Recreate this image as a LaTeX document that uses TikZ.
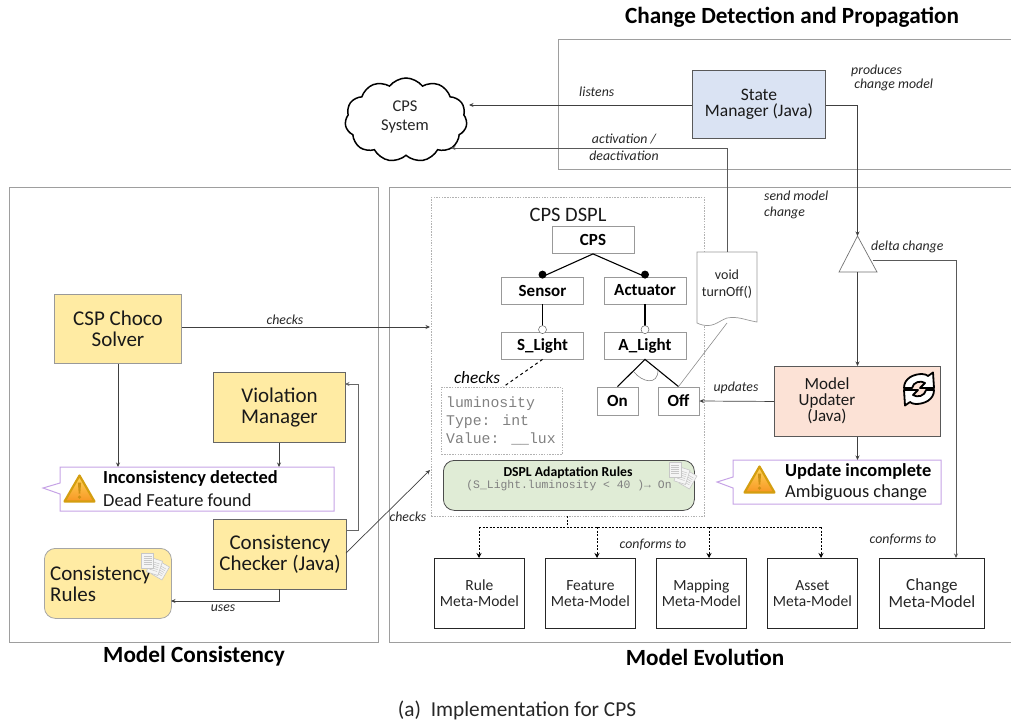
\documentclass[tikz,border=0pt]{standalone}
\usepackage{fontspec}
\setmainfont{Carlito}
\newfontfamily\monof{Liberation Mono}
\usetikzlibrary{arrows.meta,shapes.symbols,shapes.geometric,calc}
\newcommand{\fsz}[1]{\fontsize{#1}{#1}\selectfont}
\definecolor{ybox}{HTML}{FFEBA3}
\definecolor{wviolet}{HTML}{C6A3E6}
\definecolor{wedge}{RGB}{212,158,16}
\definecolor{wtop}{RGB}{255,214,90}
\definecolor{wbot}{RGB}{247,150,35}
\definecolor{wmark}{RGB}{205,145,20}
\definecolor{statefill}{RGB}{218,227,243}
\definecolor{updfill}{RGB}{252,226,214}
\definecolor{adaptfill}{RGB}{224,236,214}
\tikzset{
 x=1pt,y=-1pt,
 region/.style={draw=black!38,line width=.7pt},
 lab/.style={inner sep=0,font=\fsz{13.8}\itshape,text=black!85,align=left},
 conn/.style={draw=black!75,line width=.7pt,-{Stealth[length=4.5pt,width=4pt]}},
 yellowbox/.style={draw=black!60,line width=1pt,fill=ybox,align=center,font=\fsz{21},inner sep=0,text=black!90},
 feat/.style={draw=black!40,line width=.8pt,fill=white,font=\fsz{17}\bfseries,inner sep=0,text=black},
 meta/.style={draw=black!85,line width=.8pt,fill=white,align=center,font=\fsz{15.5},inner sep=0,text=black!85},
 tree/.style={draw=black,line width=1.1pt},
 warnbox/.style={draw=wviolet,line width=1pt,fill=white},
 title/.style={font=\fsz{23.2}\bfseries,inner sep=0,text=black},
 warnicon/.pic={
  \path[line join=round,draw=wedge,line width=2.2pt,top color=wtop,bottom color=wbot]
   (-15,13) -- (0,-13) -- (15,13) -- cycle;
  \fill[wmark] (-1.6,-6) -- (1.6,-6) -- (.8,5) -- (-.8,5) -- cycle;
  \fill[wmark] (0,8.6) circle (1.8);
 },
 docicon/.pic={
  \foreach \a/\dx/\dy in {-30/13/10,-18/7/6,0/0/0}{
   \begin{scope}[shift={(\dx,\dy)},rotate=\a]
   \path[draw=black!22,fill=black!4,line width=.6pt] (-6,-7.5) rectangle (6,7.5);
   \foreach \yy in {-4,-2,0,2,4}{\draw[black!22,line width=.5pt] (-4,\yy) -- (4,\yy);}
   \end{scope}}
 },
}
\begin{document}
\begin{tikzpicture}
\useasboundingbox (0,0) rectangle (1011,723);
% regions
\draw[region] (1011,39) -- (558,39) -- (558,169) -- (1011,169);
\draw[region] (1011,187) -- (389,187) -- (389,642) -- (1011,642);
\node[region,minimum width=369pt,minimum height=455pt,inner sep=0,anchor=north west] (mc) at (9,187) {};
\node[draw=black!30,dash pattern=on 1.5pt off 1.2pt,line width=.6pt,minimum width=273pt,minimum height=319pt,inner sep=0,anchor=north west] (dspl) at (431,197) {};
% titles
\node[title] (t1) at (792,17) {Change Detection and Propagation};
\node[title] (t2) at (194,656) {Model Consistency};
\node[title] (t3) at (705,657) {Model Evolution};
\node[inner sep=0,font=\fsz{21.3},text=black!85] (cap) at (517,710) {(a)\hspace{5pt} Implementation for CPS};
% cloud
\node[cloud,cloud puffs=11,cloud puff arc=105,aspect=1.45,draw=black,line width=1.5pt,minimum width=122pt,minimum height=84pt,inner sep=0,fill=white] (cloud) at (406,120) {};
\node[inner sep=0,align=center,font=\fsz{16.5},text=black!85] (cloudt) at (405,117) {CPS\\[3pt]System};
% state manager
\node[draw=black!65,line width=.9pt,fill=statefill,minimum width=133pt,minimum height=68pt,inner sep=0,align=center,font=\fsz{17.5},text=black!90,anchor=north west] (state) at (692,70) {State\\[-2pt]Manager (Java)};
% triangle
\coordinate (tritop) at (857.5,236);
\coordinate (tribot) at (857.5,272);
\coordinate (trir) at (873,260);
\draw[draw=black!55,line width=.7pt,fill=white] (tritop) -- (877,272) -- (839,272) -- cycle;
% updater
\node[draw=black!65,line width=.9pt,fill=updfill,minimum width=166pt,minimum height=70pt,inner sep=0,anchor=north west] (upd) at (774,366) {};
\node[inner sep=0,align=center,font=\fsz{17},text=black!90] (updt) at (827,400.5) {Model\\[-1pt]Updater\\[-1pt](Java)};
% sync icon
\begin{scope}[shift={(919,389)},line width=1.8pt,line join=round]
 \draw[black,fill=white] (-15,-1) .. controls (-15,-11) and (-5,-15) .. (3,-15) .. controls (6,-15) and (8,-14) .. (9,-13) -- (14,-16.5) -- (15,-1) -- (1,-1) -- (6,-6) .. controls (2,-9) and (-6,-7) .. (-7,-1) -- cycle;
 \draw[black,fill=white] (15,1) .. controls (15,11) and (5,15) .. (-3,15) .. controls (-6,15) and (-8,14) .. (-9,13) -- (-14,16.5) -- (-15,1) -- (-1,1) -- (-6,6) .. controls (-2,9) and (6,7) .. (7,1) -- cycle;
\end{scope}
% update warning
\draw[warnbox] (733,460) -- (941,460) -- (941,504) -- (733,504) -- (733,488) -- (717,482) -- (733,477) -- cycle;
\coordinate (w2top) at (857,460);
\pic at (759.5,479.5) {warnicon};
\node[inner sep=0,anchor=west,font=\fsz{18.4}\bfseries,text=black] (w2a) at (785,471) {Update incomplete};
\node[inner sep=0,anchor=west,font=\fsz{18.4},text=black!90] (w2b) at (785,493) {Ambiguous change};
% yellow boxes
\node[yellowbox,draw=black!40,minimum width=127pt,minimum height=69pt,anchor=north west] (csp) at (54,294) {CSP Choco\\Solver};
\node[yellowbox,minimum width=132pt,minimum height=70pt,anchor=north west] (viol) at (213,372) {Violation\\Manager};
\node[yellowbox,minimum width=133pt,minimum height=70pt,anchor=north west] (chk) at (213,519) {Consistency\\Checker (Java)};
\node[draw=black!35,line width=.8pt,fill=ybox,rounded corners=11pt,minimum width=127pt,minimum height=70pt,inner sep=0,anchor=north west] (rules) at (44,548) {};
\node[inner sep=0,align=left,anchor=west,font=\fsz{21},text=black!90] (rulest) at (50,584) {Consistency\\Rules};
\pic at (147.5,560.5) {docicon};
% warning 1
\draw[warnbox] (60,467) -- (334,467) -- (334,511) -- (60,511) -- (60,494) -- (43,488) -- (60,483) -- cycle;
\pic at (79.5,488.5) {warnicon};
\node[inner sep=0,anchor=west,font=\fsz{18.4}\bfseries,text=black] (w1a) at (103,478) {Inconsistency detected};
\node[inner sep=0,anchor=west,font=\fsz{18.4},text=black!90] (w1b) at (103,500) {Dead Feature found};
% feature tree
\node[inner sep=0,font=\fsz{20.5},text=black!90] (dspltitle) at (568,215) {CPS DSPL};
\node[feat,minimum width=82pt,minimum height=27pt] (cps) at (593,240) {CPS};
\node[feat,minimum width=82pt,minimum height=27pt] (sensor) at (542.5,290.5) {Sensor};
\node[feat,minimum width=82pt,minimum height=27pt] (act) at (645,290.5) {Actuator};
\node[feat,minimum width=82pt,minimum height=27pt] (slight) at (542.5,345.5) {S\_Light};
\node[feat,minimum width=82pt,minimum height=27pt] (alight) at (645,345.5) {A\_Light};
\node[feat,minimum width=41pt,minimum height=28pt] (on) at (617.5,401) {On};
\node[feat,minimum width=41pt,minimum height=28pt] (off) at (678.5,401) {Off};
\draw[tree] (cps.south) -- (sensor.north) node[pos=1,circle,fill=black,inner sep=0,minimum size=8pt,yshift=2pt] (d1) {};
\draw[tree] (cps.south) -- (act.north) node[pos=1,circle,fill=black,inner sep=0,minimum size=8pt,yshift=2pt] (d2) {};
\draw[tree] (sensor.south) -- (slight.north);
\draw[tree] (act.south) -- (alight.north);
\node[circle,draw=black!60,line width=.5pt,fill=white,inner sep=0,minimum size=8pt,yshift=2pt] (o1) at (slight.north) {};
\node[circle,draw=black!60,line width=.5pt,fill=white,inner sep=0,minimum size=8pt,yshift=2pt] (o2) at (alight.north) {};
\draw[tree] (on.north) -- (alight.south) -- (off.north);
\draw[black!50,line width=.6pt] (634,372) .. controls (642,382) and (658,386) .. (658,370);
% lux box
\node[draw=black!30,dash pattern=on 1.5pt off 1.2pt,line width=.6pt,minimum width=121pt,minimum height=67pt,inner sep=0,anchor=north west] (lux) at (441,387) {};
\node[inner sep=0,anchor=west,align=left,font=\monof\fsz{14.8},text=black!50] (luxt) at (446,421) {luminosity\\[3.2pt]Type: int\\[3.2pt]Value: \_\_lux};
\coordinate (luxc) at (503,387);
\draw[draw=black,line width=1pt,dashed] (slight.south) -- (luxc);
\node[inner sep=0,font=\fsz{17.3}\itshape,text=black] (chk2) at (477,378) {checks};
% rules box
\node[draw=black!70,line width=.8pt,fill=adaptfill,rounded corners=11pt,minimum width=251pt,minimum height=50pt,inner sep=0,anchor=north west] (adapt) at (443,460) {};
\node[inner sep=0,font=\fsz{13.7}\bfseries,text=black] (adaptt) at (568,473) {DSPL Adaptation Rules};
\node[inner sep=0,font=\monof\fsz{11.4},text=black!50] (adaptf) at (569,486) {(S\_Light.luminosity < 40 )→ On};
\pic at (675,469.5) {docicon};
% doc shape
\path[draw=black!40,line width=.7pt,fill=white] (697,252) -- (757,252) -- (757,322) .. controls (745,320) and (738,316) .. (727,318) .. controls (718,321) and (712,330) .. (697,323) -- cycle;
\coordinate (doctop) at (727,252);
\coordinate (docbot) at (727,323);
\node[inner sep=0,align=center,font=\fsz{14},text=black!85] (doct) at (727,284.5) {void\\[3pt]turnOff()};
\draw[black!45,line width=.6pt] (off.north) -- (docbot);
% meta-models
\node[meta,minimum width=90pt,minimum height=70pt,anchor=north west] (m1) at (434,558) {Rule\\Meta-Model};
\node[meta,minimum width=90pt,minimum height=70pt,anchor=north west] (m2) at (545,558) {Feature\\Meta-Model};
\node[meta,minimum width=90pt,minimum height=70pt,anchor=north west] (m3) at (656,558) {Mapping\\Meta-Model};
\node[meta,minimum width=90pt,minimum height=70pt,anchor=north west] (m4) at (767,558) {Asset\\Meta-Model};
\node[meta,font=\fsz{17},minimum width=105pt,minimum height=70pt,anchor=north west] (m5) at (879,558) {Change\\Meta-Model};
% connectors
\coordinate (cloudl) at (469,105);
\coordinate (cloudb) at (451,148);
\coordinate (w1l) at (118,467);
\coordinate (w1r) at (279,467);
\draw[conn] (state.west |- cloudl) -- (cloudl);
\draw[conn,draw=black!65] (doctop) -- (727,148) -- (cloudb);
\draw[conn] (state.east |- cloudl) -- (857.5,105) -- (tritop);
\draw[conn] (tribot) -- (upd.north -| tribot);
\draw[conn] (upd.south -| tribot) -- (w2top -| tribot);
\draw[conn] (upd.west) -- (off.east);
\draw[conn,draw=black!65] (trir) -- (956,260) -- (956,558);
\coordinate (dcsp) at (430,327);
\draw[conn] (csp.east |- dcsp) -- (dcsp);
\draw[conn] (csp.south -| w1l) -- (w1l);
\draw[conn] (viol.south -| w1r) -- (w1r);
\draw[conn,draw=black!60] (346,530) -- (358,530) -- (358,384) -- (345,384);
\draw[conn] (279.5,589) -- (279.5,601) -- (171,601);
\coordinate (dchk) at (430,470);
\draw[conn] (346,553) -- (dchk);
\begin{scope}[dash pattern=on 2pt off 1.5pt,line width=1pt,draw=black]
\draw (567.5,516) -- (567.5,527);
\draw (479,527) -- (821,527);
\foreach \p in {479,597,709,821}{\draw[-{Stealth[length=5pt,width=5pt]}] (\p,527) -- (\p,558);}
\end{scope}
% labels
\node[lab,anchor=west] (l1) at (579,92) {listens};
\node[lab,align=center] (l2) at (624,147) {activation /\\[3pt]deactivation};
\node[lab,anchor=west] (l3) at (851,78) {produces\\\ change model};
\node[lab,anchor=west] (l4) at (764,205) {send model\\[2pt]change};
\node[lab,anchor=west] (l5) at (871,247) {delta change};
\node[lab] (l6) at (285,320) {checks};
\node[lab] (l7) at (408,517) {checks};
\node[lab] (l8) at (223,608) {uses};
\node[lab] (l9) at (736,388) {updates};
\node[lab] (l10) at (653,545) {conforms to};
\node[lab] (l11) at (903,540) {conforms to};
\end{tikzpicture}
\end{document}
